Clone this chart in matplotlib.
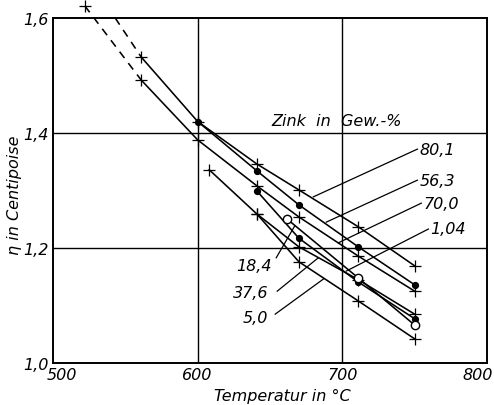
import matplotlib
matplotlib.use("Agg")
import matplotlib.pyplot as plt
import matplotlib.transforms as mtransforms

plt.rcParams['font.family'] = 'DejaVu Sans'
plt.rcParams['font.style'] = 'italic'

# viscosity curves, Zn content in wt.-%
t_801 = [561, 600, 641, 670, 711, 750]
eta_801 = [1.532, 1.420, 1.346, 1.301, 1.237, 1.169]
t_801_ext = [543, 561]
eta_801_ext = [1.600, 1.532]

t_700 = [561, 600, 641, 670, 711, 750]
eta_700 = [1.492, 1.388, 1.308, 1.254, 1.186, 1.125]
t_700_ext = [522, 561]
eta_700_ext = [1.621, 1.492]

t_563 = [600, 641, 670, 711, 750]
eta_563 = [1.420, 1.334, 1.275, 1.202, 1.136]

t_376 = [641, 670, 711, 750]
eta_376 = [1.299, 1.217, 1.141, 1.077]

t_184 = [662, 711, 750]
eta_184 = [1.250, 1.148, 1.066]

t_104 = [641, 670, 711, 750]
eta_104 = [1.259, 1.202, 1.145, 1.085]

t_50 = [608, 641, 670, 711, 750]
eta_50 = [1.336, 1.259, 1.176, 1.108, 1.042]

x_ticks = [500, 600, 700, 800]
x_ticklabels = ['500', '600', '700', '800']
y_ticks = [1.0, 1.2, 1.4, 1.6]
y_ticklabels = ['1,0', '1,2', '1,4', '1,6']

# label text, text position, leader start (on text side), leader end (on curve)
right_labels = [
    ('80,1', (753.5, 1.372), (751.9, 1.372), (680.0, 1.289)),
    ('56,3', (753.5, 1.318), (751.9, 1.318), (688.9, 1.245)),
    ('70,0', (756.0, 1.278), (754.6, 1.278), (697.2, 1.209)),
    ('1,04', (761.0, 1.234), (759.5, 1.233), (702.8, 1.160)),
]
left_labels = [
    ('18,4', (651.5, 1.170), (654.3, 1.183), (667.0, 1.238)),
    ('37,6', (648.8, 1.122), (655.0, 1.125), (683.4, 1.183)),
    ('5,0', (648.8, 1.080), (653.6, 1.085), (686.9, 1.146)),
]

fig = plt.figure(figsize=(4.94, 4.06), dpi=100)
ax = fig.add_axes([0.1073, 0.1034, 0.8785, 0.8498])

ax.set_xlim(500, 800)
ax.set_ylim(1.0, 1.6)

for x in [600, 700]:
    ax.axvline(x, color='black', lw=1.0, zorder=1)
for y in [1.2, 1.4]:
    ax.axhline(y, color='black', lw=1.0, zorder=1)

lw = 1.15
plus = dict(marker='+', ms=8, mew=0.9, color='black', lw=lw, zorder=3)
dot = dict(marker='o', ms=4.2, mfc='black', mec='black', color='black', lw=lw, zorder=3)
ring = dict(marker='o', ms=6.0, mfc='white', mec='black', mew=1.0, color='black', lw=lw, zorder=3)

ax.plot(t_801_ext, eta_801_ext, color='black', lw=lw, ls=(0, (5, 4)))
ax.plot(t_700_ext, eta_700_ext, color='black', lw=lw, ls=(0, (5, 4)), clip_on=False)
ax.plot(t_700_ext[:1], eta_700_ext[:1], ls='none', marker='+', ms=8, mew=0.9,
        color='black', clip_on=False)

ax.plot(t_801, eta_801, **plus)
ax.plot(t_700, eta_700, **plus)
ax.plot(t_104, eta_104, **plus)
ax.plot(t_50, eta_50, **plus)
ax.plot(t_563, eta_563, **dot)
ax.plot(t_376, eta_376, **dot)
ax.plot(t_184, eta_184, **ring)

for text, pos, p0, p1 in right_labels:
    ax.plot([p0[0], p1[0]], [p0[1], p1[1]], color='black', lw=0.9)
    ax.text(pos[0], pos[1], text, ha='left', va='center', fontsize=11.5)
for text, pos, p0, p1 in left_labels:
    ax.plot([p0[0], p1[0]], [p0[1], p1[1]], color='black', lw=0.9)
    ax.text(pos[0], pos[1], text, ha='right', va='center', fontsize=11.5)

ax.text(696, 1.422, 'Zink  in  Gew.-%', ha='center', va='center', fontsize=11.5)

ax.set_xticks(x_ticks)
ax.set_xticklabels(x_ticklabels, fontsize=11.5)
ax.set_yticks(y_ticks)
ax.set_yticklabels(y_ticklabels, fontsize=11.5)
ax.tick_params(length=0, pad=3)

# keep the outer temperature labels inside the figure
xl = ax.get_xticklabels()
xl[0].set_transform(xl[0].get_transform() + mtransforms.ScaledTranslation(9 / 100, 0, fig.dpi_scale_trans))
xl[-1].set_transform(xl[-1].get_transform() + mtransforms.ScaledTranslation(-9 / 100, 0, fig.dpi_scale_trans))

for s in ax.spines.values():
    s.set_linewidth(1.4)

fig.text(282 / 494, 1 - 396 / 406, 'Temperatur in °C', ha='center', va='center', fontsize=11.5)
fig.text(14 / 494, 1 - 195 / 406, 'η in Centipoise', ha='center', va='center',
         rotation=90, fontsize=11.5)

fig.savefig('out.png', dpi=100)
